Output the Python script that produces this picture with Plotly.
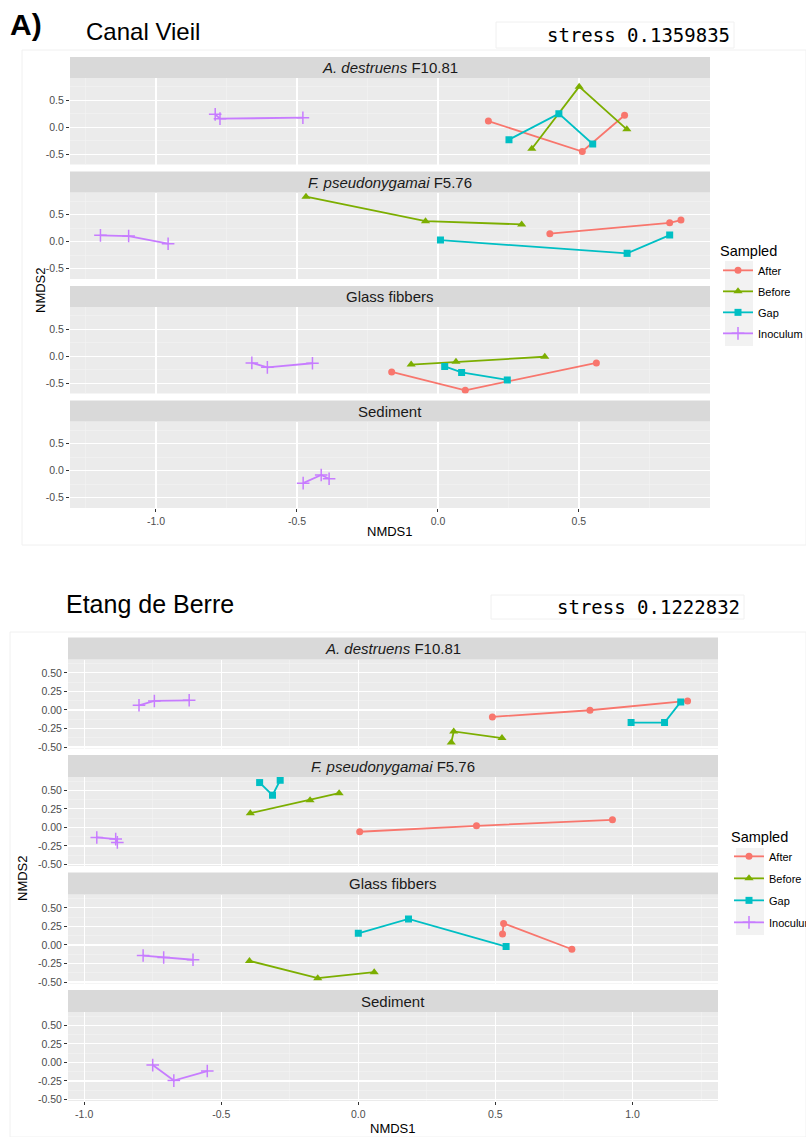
import plotly.graph_objects as go

W, H = 806, 1137

PANELS = ["<i>A. destruens</i> F10.81", "<i>F. pseudonygamai</i> F5.76", "Glass fibbers", "Sediment"]
GROUPS = ["After", "Before", "Gap", "Inoculum"]
COLORS = ["#F8766D", "#7CAE00", "#00BFC4", "#C77CFF"]
SYMBOLS = ["circle", "triangle-up", "square", "cross-thin-open"]
MSIZE = [7, 8, 7, 9]

# ---- Canal Vieil (one list per panel) ----
cv_after_x = [[0.179, 0.512, 0.662], [0.397, 0.822, 0.862], [-0.164, 0.097, 0.562], []]
cv_after_y = [[0.113, -0.45, 0.22], [0.148, 0.35, 0.40], [-0.29, -0.63, -0.125], []]
cv_before_x = [[0.333, 0.501, 0.67], [-0.468, -0.044, 0.297], [-0.095, 0.064, 0.379], []]
cv_before_y = [[-0.40, 0.75, -0.04], [0.833, 0.38, 0.32], [-0.155, -0.105, -0.01], []]
cv_gap_x = [[0.252, 0.429, 0.549], [0.009, 0.671, 0.822], [0.024, 0.084, 0.246], []]
cv_gap_y = [[-0.23, 0.25, -0.31], [0.03, -0.216, 0.122], [-0.19, -0.30, -0.44], []]
cv_inoc_x = [[-0.79, -0.773, -0.479], [-1.197, -1.097, -0.957], [-0.66, -0.605, -0.445], [-0.478, -0.414, -0.386]]
cv_inoc_y = [[0.238, 0.158, 0.176], [0.117, 0.104, -0.037], [-0.124, -0.206, -0.13], [-0.23, -0.08, -0.15]]

# ---- Etang de Berre ----
eb_after_x = [[0.489, 0.845, 1.201], [0.005, 0.431, 0.927], [0.526, 0.530, 0.779], []]
eb_after_y = [[-0.094, -0.004, 0.121], [-0.058, 0.022, 0.103], [0.148, 0.29, -0.058], []]
eb_before_x = [[0.339, 0.348, 0.524], [-0.394, -0.176, -0.070], [-0.397, -0.148, 0.058], []]
eb_before_y = [[-0.44, -0.29, -0.38], [0.192, 0.367, 0.461], [-0.215, -0.448, -0.367], []]
eb_gap_x = [[0.995, 1.117, 1.176], [-0.36, -0.313, -0.285], [0.0, 0.183, 0.539], []]
eb_gap_y = [[-0.17, -0.17, 0.108], [0.605, 0.434, 0.636], [0.157, 0.35, -0.022], []]
eb_inoc_x = [[-0.80, -0.744, -0.617], [-0.954, -0.885, -0.879], [-0.785, -0.71, -0.603], [-0.75, -0.673, -0.551]]
eb_inoc_y = [[0.063, 0.121, 0.13], [-0.135, -0.157, -0.202], [-0.143, -0.17, -0.20], [-0.036, -0.245, -0.116]]

# tick labels
cv_xticks = [-1.0, -0.5, 0.0, 0.5]
cv_xtext = ["-1.0", "-0.5", "0.0", "0.5"]
cv_yticks = [-0.5, 0.0, 0.5]
cv_ytext = ["-0.5", "0.0", "0.5"]
eb_xticks = [-1.0, -0.5, 0.0, 0.5, 1.0]
eb_xtext = ["-1.0", "-0.5", "0.0", "0.5", "1.0"]
eb_yticks = [-0.5, -0.25, 0.0, 0.25, 0.5]
eb_ytext = ["-0.50", "-0.25", "0.00", "0.25", "0.50"]


def fx(px):
    return px / W


def fy(py):
    return 1 - py / H


charts = [
    dict(name="cv", data=[(cv_after_x, cv_after_y), (cv_before_x, cv_before_y), (cv_gap_x, cv_gap_y), (cv_inoc_x, cv_inoc_y)],
         xdom=(70, 710), strip0=57, period=114.5, strip_h=21, plot_h=86.5,
         xrange=[-1.305, 0.965], yrange=[-0.69, 0.91],
         xt=(cv_xticks, cv_xtext), yt=(cv_yticks, cv_ytext),
         xminor=[-1.25, -0.75, -0.25, 0.25, 0.75], yminor=[-0.25, 0.25, 0.75],
         legend="legend"),
    dict(name="eb", data=[(eb_after_x, eb_after_y), (eb_before_x, eb_before_y), (eb_gap_x, eb_gap_y), (eb_inoc_x, eb_inoc_y)],
         xdom=(68, 718), strip0=637.5, period=117.5, strip_h=22, plot_h=89,
         xrange=[-1.059, 1.312], yrange=[-0.52, 0.68],
         xt=(eb_xticks, eb_xtext), yt=(eb_yticks, eb_ytext),
         xminor=[-0.75, -0.25, 0.25, 0.75, 1.25], yminor=[-0.375, -0.125, 0.125, 0.375, 0.625],
         legend="legend2"),
]

fig = go.Figure()
layout = {}
shapes = []
annotations = []

TXT = "Liberation Sans, Arial, sans-serif"
TICKFONT = dict(family=TXT, size=10.5, color="#4D4D4D")

for c, ch in enumerate(charts):
    for p in range(4):
        k = c * 4 + p + 1
        sfx = "" if k == 1 else str(k)
        strip_top = ch["strip0"] + p * ch["period"]
        plot_top = strip_top + ch["strip_h"]
        plot_bot = plot_top + ch["plot_h"]
        x0, x1 = ch["xdom"]
        last = p == 3
        layout["xaxis" + sfx] = dict(
            domain=[fx(x0), fx(x1)], anchor="y" + sfx, range=ch["xrange"],
            tickmode="array", tickvals=ch["xt"][0], ticktext=ch["xt"][1],
            showticklabels=last, ticks="outside" if last else "", ticklen=3, tickwidth=1, tickcolor="#333333",
            showgrid=True, gridcolor="white", gridwidth=1.2, zeroline=False, showline=False,
            minor=dict(tickmode="array", tickvals=ch["xminor"], showgrid=True, gridcolor="#F4F4F4", gridwidth=0.6, ticks=""),
            tickfont=TICKFONT, fixedrange=True, automargin=False,
        )
        layout["yaxis" + sfx] = dict(
            domain=[fy(plot_bot), fy(plot_top)], anchor="x" + sfx, range=ch["yrange"],
            tickmode="array", tickvals=ch["yt"][0], ticktext=ch["yt"][1],
            ticks="outside", ticklen=3, tickwidth=1, tickcolor="#333333",
            showgrid=True, gridcolor="white", gridwidth=1.2, zeroline=False, showline=False,
            minor=dict(tickmode="array", tickvals=ch["yminor"], showgrid=True, gridcolor="#F4F4F4", gridwidth=0.6, ticks=""),
            tickfont=TICKFONT, fixedrange=True, automargin=False,
        )
        # strip
        shapes.append(dict(type="rect", xref="paper", yref="paper", x0=fx(x0), x1=fx(x1),
                           y0=fy(plot_top), y1=fy(strip_top), fillcolor="#D9D9D9", line=dict(width=0), layer="below"))
        annotations.append(dict(xref="paper", yref="paper", x=fx((x0 + x1) / 2), y=fy((strip_top + plot_top) / 2),
                                text=PANELS[p], showarrow=False, xanchor="center", yanchor="middle",
                                font=dict(family=TXT, size=15, color="#1A1A1A")))
        for g in range(4):
            xs = ch["data"][g][0][p]
            ys = ch["data"][g][1][p]
            fig.add_trace(go.Scatter(
                x=xs, y=ys, xaxis="x" + sfx, yaxis="y" + sfx,
                mode="lines+markers", name=GROUPS[g],
                legend=ch["legend"], legendgroup=ch["name"] + GROUPS[g],
                showlegend=(p == 0),
                line=dict(color=COLORS[g], width=1.8),
                marker=dict(color=COLORS[g], symbol=SYMBOLS[g], size=MSIZE[g],
                            line=dict(color=COLORS[g], width=1.5 if g == 3 else 0)),
                hoverinfo="skip",
            ))

# faint frames of the two pasted charts
shapes.append(dict(type="rect", xref="paper", yref="paper", x0=fx(22), x1=fx(806), y0=fy(545), y1=fy(50),
                   line=dict(color="#F0F0F0", width=1), fillcolor="rgba(0,0,0,0)", layer="below"))
shapes.append(dict(type="rect", xref="paper", yref="paper", x0=fx(10), x1=fx(806), y0=fy(1137), y1=fy(632),
                   line=dict(color="#F0F0F0", width=1), fillcolor="rgba(0,0,0,0)", layer="below"))
# stress boxes
shapes.append(dict(type="rect", xref="paper", yref="paper", x0=fx(496), x1=fx(734), y0=fy(48), y1=fy(22),
                   line=dict(color="#F0F0F0", width=1), fillcolor="rgba(0,0,0,0)", layer="below"))
shapes.append(dict(type="rect", xref="paper", yref="paper", x0=fx(491), x1=fx(744), y0=fy(619), y1=fy(595),
                   line=dict(color="#F0F0F0", width=1), fillcolor="rgba(0,0,0,0)", layer="below"))
# legend key backgrounds
shapes.append(dict(type="rect", xref="paper", yref="paper", x0=fx(725), x1=fx(753), y0=fy(346), y1=fy(261),
                   fillcolor="#F2F2F2", line=dict(width=0), layer="below"))
shapes.append(dict(type="rect", xref="paper", yref="paper", x0=fx(736), x1=fx(764), y0=fy(935), y1=fy(848),
                   fillcolor="#F2F2F2", line=dict(width=0), layer="below"))

annotations += [
    dict(xref="paper", yref="paper", x=fx(8), y=fy(25), text="<b>A)</b>", showarrow=False,
         xanchor="left", yanchor="middle", font=dict(family=TXT, size=30, color="black")),
    dict(xref="paper", yref="paper", x=fx(84), y=fy(31), text="Canal Vieil", showarrow=False,
         xanchor="left", yanchor="middle", font=dict(family=TXT, size=24, color="black")),
    dict(xref="paper", yref="paper", x=fx(545), y=fy(35), text="stress 0.1359835", showarrow=False,
         xanchor="left", yanchor="middle", font=dict(family="DejaVu Sans Mono, monospace", size=19, color="black")),
    dict(xref="paper", yref="paper", x=fx(64), y=fy(604), text="Etang de Berre", showarrow=False,
         xanchor="left", yanchor="middle", font=dict(family=TXT, size=25, color="black")),
    dict(xref="paper", yref="paper", x=fx(555), y=fy(607), text="stress 0.1222832", showarrow=False,
         xanchor="left", yanchor="middle", font=dict(family="DejaVu Sans Mono, monospace", size=19, color="black")),
    dict(xref="paper", yref="paper", x=fx(390), y=fy(532), text="NMDS1", showarrow=False,
         xanchor="center", yanchor="middle", font=dict(family=TXT, size=13, color="black")),
    dict(xref="paper", yref="paper", x=fx(393), y=fy(1128), text="NMDS1", showarrow=False,
         xanchor="center", yanchor="middle", font=dict(family=TXT, size=13, color="black")),
    dict(xref="paper", yref="paper", x=fx(40), y=fy(290), text="NMDS2", showarrow=False, textangle=-90,
         xanchor="center", yanchor="middle", font=dict(family=TXT, size=13, color="black")),
    dict(xref="paper", yref="paper", x=fx(22), y=fy(878), text="NMDS2", showarrow=False, textangle=-90,
         xanchor="center", yanchor="middle", font=dict(family=TXT, size=13, color="black")),
]

LEG = dict(xanchor="left", yanchor="top", bgcolor="rgba(0,0,0,0)", borderwidth=0,
           traceorder="grouped",
           font=dict(family=TXT, size=11, color="black"),
           title=dict(font=dict(family=TXT, size=14.5, color="black")))

fig.update_layout(
    width=W, height=H, margin=dict(l=0, r=0, t=0, b=0, autoexpand=False),
    paper_bgcolor="white", plot_bgcolor="#EBEBEB",
    shapes=shapes, annotations=annotations,
    legend=dict(LEG, x=fx(718), y=fy(237), tracegroupgap=2, title=dict(LEG["title"], text="Sampled")),
    legend2=dict(LEG, x=fx(729), y=fy(823), tracegroupgap=3, title=dict(LEG["title"], text="Sampled")),
    **layout,
)

fig.write_html("out.html", config={"displayModeBar": False, "staticPlot": True},
               post_script="document.body.style.margin='0px';")
